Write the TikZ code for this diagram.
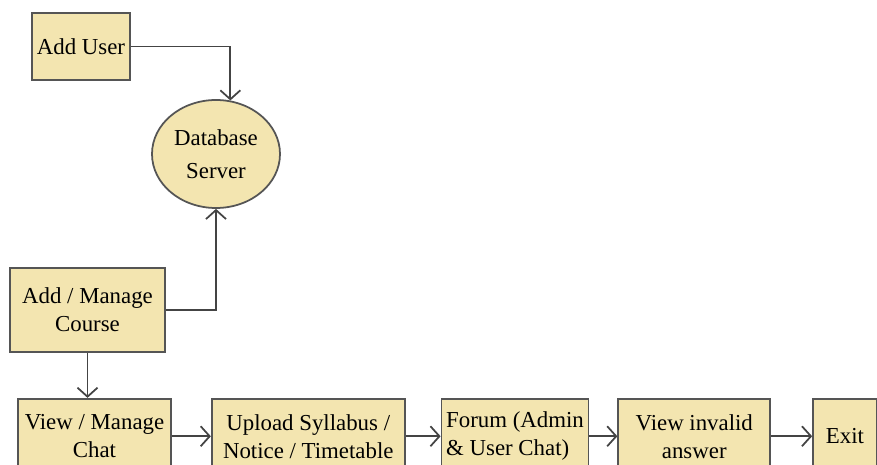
\documentclass[tikz,border=0pt]{standalone}
\usepackage{fontspec}
\setmainfont{Liberation Serif}
\usetikzlibrary{arrows.meta, positioning, shapes.geometric}

\definecolor{boxfill}{HTML}{F3E5B0}
\definecolor{boxline}{HTML}{555555}

\begin{document}
\begin{tikzpicture}[
    block/.style={rectangle, draw=boxline, fill=boxfill, line width=1pt,
        minimum height=1.5cm, inner sep=0.08cm, align=center,
        font=\fontsize{13}{16}\selectfont},
    store/.style={ellipse, draw=boxline, fill=boxfill, line width=1pt,
        minimum width=2.56cm, minimum height=2.16cm, inner sep=0pt, align=center,
        font=\fontsize{13}{19}\selectfont},
    flow/.style={draw=boxline!80!black, line width=1pt,
        -{Straight Barb[length=1.8mm,width=4mm]}},
    link/.style={draw=boxline!80!black, line width=1pt}
]
    \useasboundingbox (0,0) rectangle (17.54,-9.30);
    \begin{scope}
    \clip (0,0) rectangle (17.54,-9.30);

    % Blocks
    \node[block, minimum width=1.96cm, minimum height=1.34cm] (adduser) at (1.62,-0.93) {Add User};
    \node[store] (db) at (4.32,-3.08) {Database\\Server};
    \node[block, minimum width=3.1cm, minimum height=1.68cm] (course) at (1.75,-6.2) {Add / Manage\\Course};
    \node[block, minimum width=3.06cm, below=0.9cm of course, xshift=0.14cm] (chat) {View / Manage\\Chat};
    \node[block, minimum width=3.86cm, right=0.78cm of chat] (upload) {Upload Syllabus /\\Notice / Timetable};
    \node[block, minimum width=2.94cm, right=0.7cm of upload, align=left] (forum) {Forum (Admin\\\& User Chat)};
    \node[block, minimum width=3.04cm, right=0.56cm of forum] (invalid) {View invalid\\answer};
    \node[block, minimum width=1.28cm, right=0.82cm of invalid] (exit) {Exit};

    % Arrows
    \draw[flow] (adduser.east) -| (db.75);
    \draw[flow] (course.east) -| (db.south);
    \draw[flow] (course.south) -- (course.south |- chat.north);
    \draw[flow] (chat) -- (upload);
    \draw[flow] (upload) -- (forum);
    \draw[flow] (forum) -- (invalid);
    \draw[flow] (invalid) -- (exit);
    \end{scope}
\end{tikzpicture}
\end{document}
